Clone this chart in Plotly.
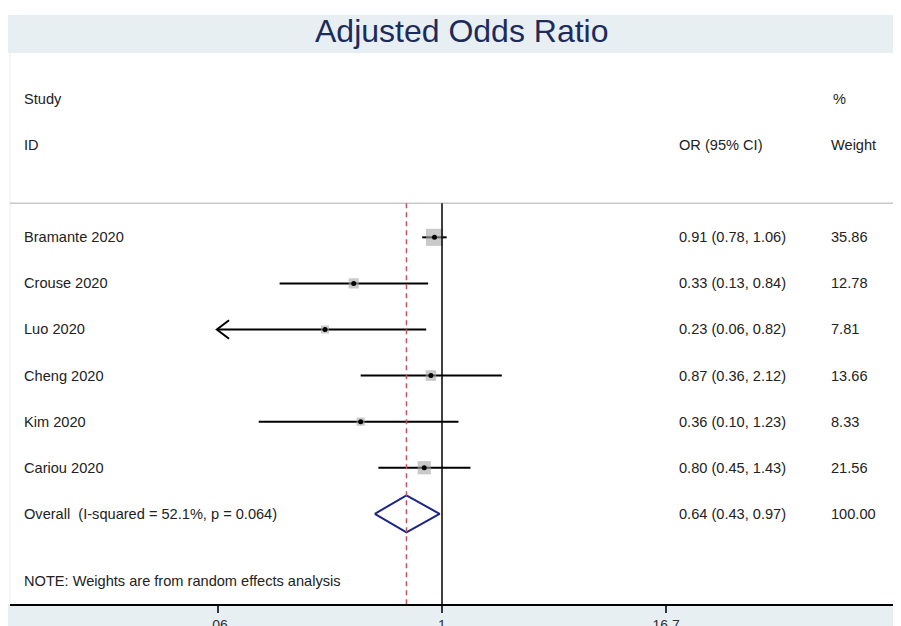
import numpy as np
import plotly.graph_objects as go

title = "Adjusted Odds Ratio"
studies = ["Bramante 2020", "Crouse 2020", "Luo 2020", "Cheng 2020", "Kim 2020", "Cariou 2020"]
odds = [0.91, 0.33, 0.23, 0.87, 0.36, 0.80]
lower = [0.78, 0.13, 0.06, 0.36, 0.10, 0.45]
upper = [1.06, 0.84, 0.82, 2.12, 1.23, 1.43]
weights = [35.86, 12.78, 7.81, 13.66, 8.33, 21.56]

overall_label = "Overall  (I-squared = 52.1%, p = 0.064)"
overall_or = 0.64
overall_lo = 0.43
overall_hi = 0.97
overall_weight = 100.00

note = "NOTE: Weights are from random effects analysis"
tick_vals = [0.06, 1, 16.7]
tick_text = [".06", "1", "16.7"]

FONT = "Liberation Sans, Arial, sans-serif"
OFF = 8  # page offset of the figure inside the window
W, H = 901, 626
ML, MR, MT, MB = 10 - OFF, 0, 53 - OFF, 22
FW, FH = W - OFF + 8, H - OFF
PW = FW - ML - MR
PH = FH - MT - MB
PPD = 183.3  # pixels per decade
ONE_X = 442 - OFF
x0 = (ML - ONE_X) / PPD
x1 = (FW - MR - ONE_X) / PPD
rows = list(range(1, len(studies) + 1))
row_overall = len(studies) + 1
y_top, y_bot = -3.0, 8.957
axis_min = min(tick_vals)

fig = go.Figure()

for r, lo, hi in zip(rows, lower, upper):
    fig.add_trace(go.Scatter(x=[max(lo, axis_min), hi], y=[r, r], mode="lines",
                             line=dict(color="black", width=2), hoverinfo="skip", showlegend=False))
    if lo <= axis_min:
        f = 10 ** (11 / PPD)
        fig.add_trace(go.Scatter(x=[axis_min * f, axis_min * 0.985, axis_min * f], y=[r - 0.2, r, r + 0.2],
                                 mode="lines", line=dict(color="black", width=2),
                                 hoverinfo="skip", showlegend=False))

fig.add_trace(go.Scatter(x=odds, y=rows, mode="markers",
                         marker=dict(symbol="square", color="rgba(165,165,165,0.85)",
                                     size=[2.85 * np.sqrt(w) for w in weights], line=dict(width=0)),
                         hoverinfo="skip", showlegend=False))
fig.add_trace(go.Scatter(x=odds, y=rows, mode="markers",
                         marker=dict(symbol="circle", color="black", size=5),
                         hoverinfo="skip", showlegend=False))

fig.add_trace(go.Scatter(x=[overall_lo, overall_or, overall_hi, overall_or, overall_lo],
                         y=[row_overall, row_overall - 0.4, row_overall, row_overall + 0.4, row_overall],
                         mode="lines", line=dict(color="#1c2585", width=2),
                         hoverinfo="skip", showlegend=False))

shapes = []
shapes.append(dict(type="rect", xref="paper", yref="paper", x0=-4 / PW, x1=1.02, y0=1, y1=1 + 38 / PH,
                   fillcolor="#e8eff2", line=dict(width=0), layer="below"))
shapes.append(dict(type="rect", xref="paper", yref="paper", x0=-4 / PW, x1=1.02, y0=-MB / PH, y1=0,
                   fillcolor="#e8eff2", line=dict(width=0), layer="below"))
shapes.append(dict(type="line", xref="paper", yref="paper", x0=0, x1=0, y0=0, y1=1,
                   line=dict(color="#eeeeee", width=1)))
shapes.append(dict(type="line", xref="paper", yref="y", x0=0, x1=1.02, y0=0.26, y1=0.26,
                   line=dict(color="#c8c8c8", width=1.5)))
shapes.append(dict(type="line", xref="x", yref="y", x0=1, x1=1, y0=0.26, y1=y_bot,
                   line=dict(color="black", width=1.5)))
shapes.append(dict(type="line", xref="x", yref="y", x0=overall_or, x1=overall_or, y0=0.26, y1=y_bot,
                   line=dict(color="#c05560", width=1.5, dash="5px,4px")))

ann = []
def txt(x, y, s, size=14.6):
    ann.append(dict(x=x, y=y, xref="paper", yref="y", text=s, showarrow=False, xanchor="left",
                    yanchor="middle", font=dict(family=FONT, size=size, color="#222222")))

def px(xw):
    return (xw - OFF - ML) / PW

x_study = px(22)
x_or = px(677)
x_w = px(829)
txt(x_study, -2, "Study")
txt(x_study, -1, "ID")
txt(x_or, -1, "OR (95% CI)")
txt(px(831), -2, "%")
txt(x_w, -1, "Weight")
for r, s, o, lo, hi, w in zip(rows, studies, odds, lower, upper, weights):
    txt(x_study, r, s)
    txt(x_or, r, f"{o:.2f} ({lo:.2f}, {hi:.2f})")
    txt(x_w, r, f"{w:.2f}")
txt(x_study, row_overall, overall_label)
txt(x_or, row_overall, f"{overall_or:.2f} ({overall_lo:.2f}, {overall_hi:.2f})")
txt(x_w, row_overall, f"{overall_weight:.2f}")
txt(x_study, 8.46, note)

ann.append(dict(x=px(462), y=1 + 22 / PH, xref="paper", yref="paper", text=title,
                showarrow=False, xanchor="center", yanchor="middle",
                font=dict(family=FONT, size=32, color="#1d2b5c")))

fig.update_layout(
    width=FW, height=FH,
    margin=dict(l=ML, r=MR, t=MT, b=MB, pad=0, autoexpand=False),
    paper_bgcolor="white", plot_bgcolor="white",
    shapes=shapes, annotations=ann,
    xaxis=dict(type="log", range=[x0, x1], tickvals=tick_vals, ticktext=tick_text, automargin=False,
               showgrid=False, zeroline=False, showline=True, linecolor="black", linewidth=2,
               ticks="outside", ticklen=7, tickwidth=1.5, tickcolor="#333333",
               tickfont=dict(family=FONT, size=14, color="#333333")),
    yaxis=dict(range=[y_bot, y_top], visible=False, showgrid=False, zeroline=False, automargin=False),
)

fig.write_html("out.html")
